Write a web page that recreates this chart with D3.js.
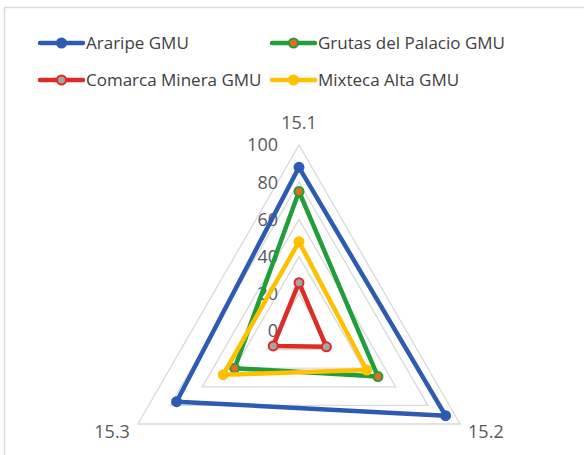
<!DOCTYPE html>
<html>
<head>
<meta charset="utf-8">
<script src="https://cdn.jsdelivr.net/npm/d3@7"></script>
<style>
  body { margin: 0; background: #fff; }
  text { font-family: "Open Sans", sans-serif; }
</style>
</head>
<body>
<svg id="chart" width="584" height="455"></svg>
<script>
var axes = ["15.1", "15.2", "15.3"];
var ticks = [0, 20, 40, 60, 80, 100];
var seriesNames = ["Araripe GMU", "Grutas del Palacio GMU", "Comarca Minera GMU", "Mixteca Alta GMU"];
var araripe = [88, 91, 76];
var grutas = [75, 49, 40];
var comarca = [26, 17, 16];
var mixteca = [48, 42, 47];

var lineColors = ["#2d5bb3", "#1f9e3a", "#e02a26", "#ffc000"];
var dotColors = ["#2d5bb3", "#ec6a1e", "#a5a5a5", "#ffc000"];
var series = [araripe, grutas, comarca, mixteca];

var svg = d3.select("#chart");
var cx = 299, cy = 331, R = 186;

// chart border
svg.append("rect").attr("x", 4.5).attr("y", 7.5).attr("width", 600).attr("height", 460)
  .attr("fill", "none").attr("stroke", "#d9d9d9").attr("stroke-width", 1.5);

var r = d3.scaleLinear().domain([0, 100]).range([0, R]);
var angle = d3.scalePoint().domain(axes).range([-Math.PI / 2, -Math.PI / 2 + 4 * Math.PI / 3]);

function pt(a, v) {
  var t = angle(a);
  return [cx + r(v) * Math.cos(t), cy + r(v) * Math.sin(t)];
}

var g = svg.append("g");
var line = d3.line().curve(d3.curveLinearClosed);

// grid
g.selectAll(".grid").data(ticks.slice(1)).enter().append("path")
  .attr("d", function(v) { return line(axes.map(function(a) { return pt(a, v); })); })
  .attr("fill", "none").attr("stroke", "#d9d9d9").attr("stroke-width", 1.3);

// tick labels
g.selectAll(".tick").data(ticks).enter().append("text")
  .attr("x", cx - 21).attr("y", function(v) { return cy - r(v); })
  .attr("dy", "0.35em").attr("text-anchor", "end")
  .attr("font-size", 18).attr("fill", "#595959")
  .text(function(v) { return v; });

// axis labels
var labelPos = {"15.1": [cx, cy - R - 22, "middle"], "15.2": [cx + R * Math.cos(Math.PI / 6) + 8, cy + R / 2 + 8, "start"],
  "15.3": [cx - R * Math.cos(Math.PI / 6) - 8, cy + R / 2 + 8, "end"]};
g.selectAll(".axlab").data(axes).enter().append("text")
  .attr("x", function(a) { return labelPos[a][0]; })
  .attr("y", function(a) { return labelPos[a][1]; })
  .attr("text-anchor", function(a) { return labelPos[a][2]; })
  .attr("dy", "0.35em").attr("font-size", 18).attr("fill", "#595959")
  .text(function(a) { return a; });

// series
series.forEach(function(vals, i) {
  var pts = axes.map(function(a, j) { return pt(a, vals[j]); });
  g.append("path").attr("d", line(pts)).attr("fill", "none")
    .attr("stroke", lineColors[i]).attr("stroke-width", 4.5).attr("stroke-linejoin", "round");
  g.selectAll(".dot" + i).data(pts).enter().append("circle")
    .attr("cx", function(d) { return d[0]; }).attr("cy", function(d) { return d[1]; })
    .attr("r", 4.5).attr("fill", dotColors[i]).attr("stroke", lineColors[i]).attr("stroke-width", 2);
});

// legend
var legendPos = [[40, 43], [272, 43], [40, 80], [272, 80]];
var leg = svg.selectAll(".leg").data(seriesNames).enter().append("g")
  .attr("transform", function(d, i) { return "translate(" + legendPos[i][0] + "," + legendPos[i][1] + ")"; });
leg.append("line").attr("x1", 0).attr("x2", 43).attr("y1", 0).attr("y2", 0)
  .attr("stroke", function(d, i) { return lineColors[i]; }).attr("stroke-width", 4.5).attr("stroke-linecap", "round");
leg.append("circle").attr("cx", 21.5).attr("cy", 0).attr("r", 4.5)
  .attr("fill", function(d, i) { return dotColors[i]; })
  .attr("stroke", function(d, i) { return lineColors[i]; }).attr("stroke-width", 2);
leg.append("text").attr("x", 46).attr("y", 0).attr("dy", "0.35em")
  .attr("font-size", 17).attr("fill", "#404040")
  .text(function(d) { return d; });
</script>
</body>
</html>
